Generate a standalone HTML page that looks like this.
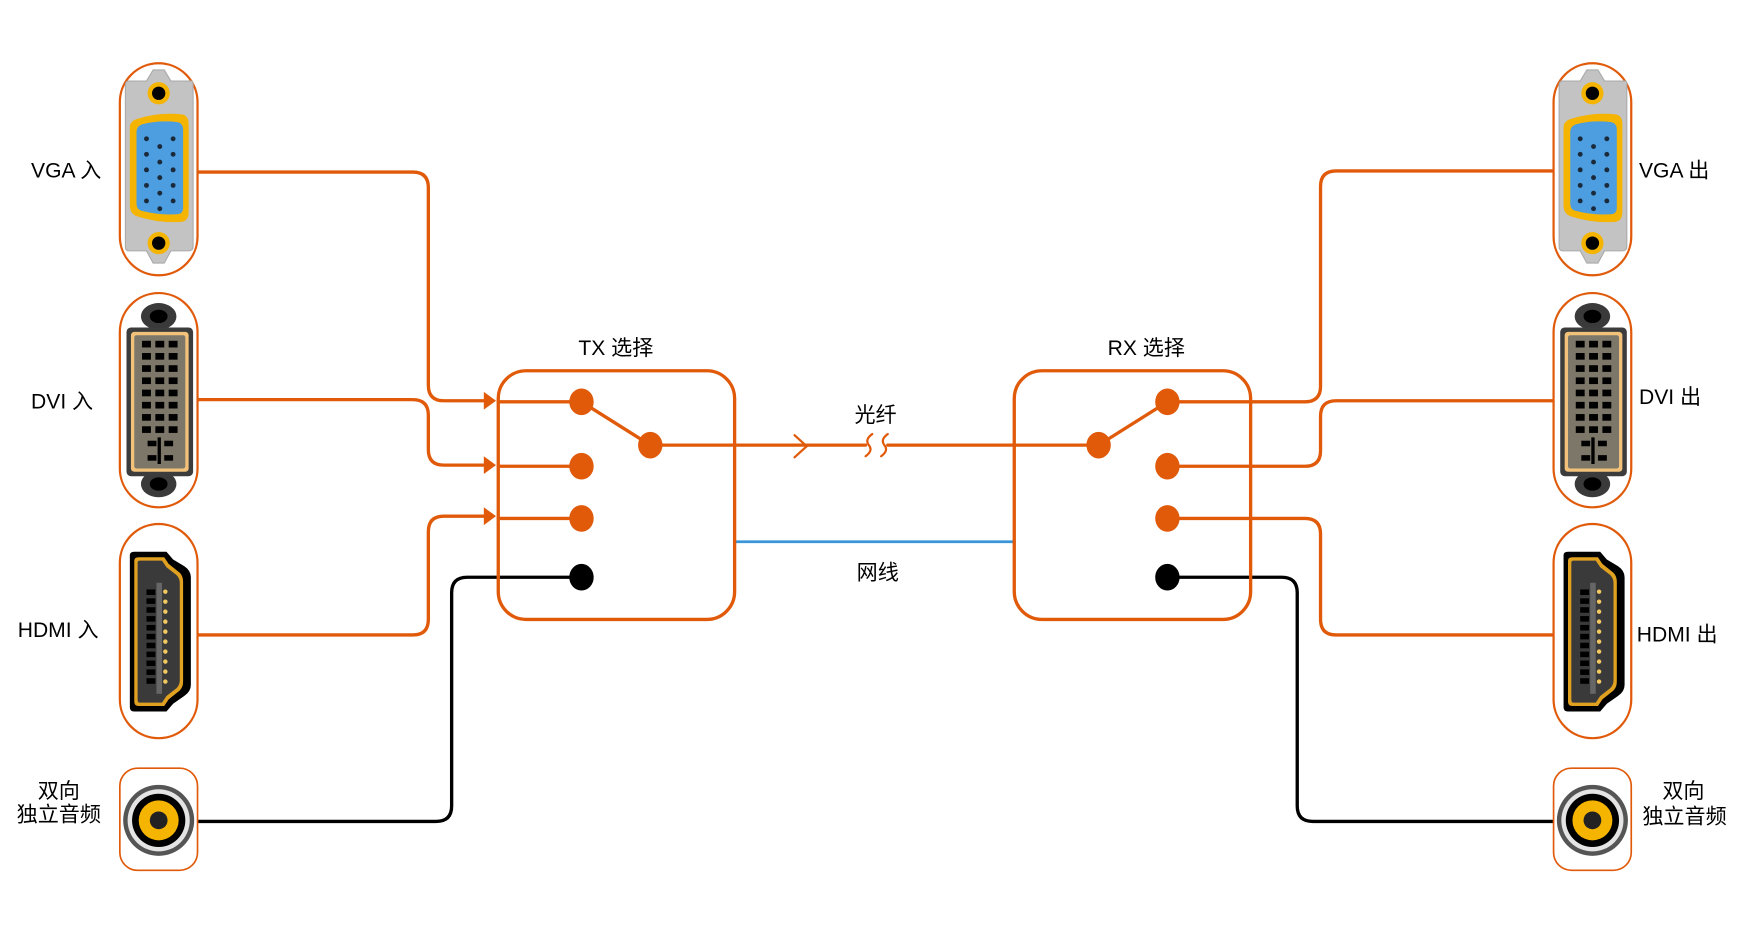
<!DOCTYPE html>
<html><head><meta charset="utf-8"><style>
html,body{margin:0;padding:0;background:#fff;}
svg{display:block}
text{font-family:"Liberation Sans Narrow","Liberation Sans","Noto Sans CJK SC",sans-serif;font-size:19px;fill:#000}
</style></head><body>
<svg width="1740" height="948" viewBox="0 0 1568 854" preserveAspectRatio="none" xmlns="http://www.w3.org/2000/svg">
<defs>
<g id="vga">
 <rect x="0" y="0" width="70" height="191" rx="35" fill="#fff" stroke="#e05a0a" stroke-width="2"/>
 <path d="M24 16 L30 6 L40 6 L46 16 L65 16 Q66 16 66 20 L66 165 Q66 169 62 169 L46 169 L40 180 L30 180 L24 169 L8 169 Q5 169 5 165 L5 20 Q5 16 8 16 Z" fill="#c3c3c3" stroke="#aaa" stroke-width="1"/>
 <circle cx="35" cy="27" r="10" fill="#f5b400"/><circle cx="35" cy="27" r="6" fill="#000"/>
 <circle cx="35" cy="162" r="10" fill="#f5b400"/><circle cx="35" cy="162" r="6" fill="#000"/>
 <path d="M16 50 Q35 44 56 46 Q62 47 62 55 L62 134 Q62 143 54 143 Q35 144 16 138 Q9 136 9 128 L9 58 Q9 52 16 50Z" fill="#f5b400"/>
 <path d="M20 55 Q35 51 52 53 Q57 54 57 60 L57 130 Q57 136 51 136 Q35 137 20 133 Q15 132 15 126 L15 62 Q15 57 20 55Z" fill="#4d9ee0"/>
 <g fill="#1a2a3a">
 <circle cx="24" cy="68" r="2.2"/><circle cx="48" cy="68" r="2.2"/><circle cx="24" cy="82" r="2.2"/><circle cx="48" cy="82" r="2.2"/><circle cx="24" cy="96" r="2.2"/><circle cx="48" cy="96" r="2.2"/><circle cx="24" cy="110" r="2.2"/><circle cx="48" cy="110" r="2.2"/><circle cx="24" cy="124" r="2.2"/><circle cx="48" cy="124" r="2.2"/>
 <circle cx="36" cy="75" r="2.2"/><circle cx="36" cy="89" r="2.2"/><circle cx="36" cy="103" r="2.2"/><circle cx="36" cy="117" r="2.2"/><circle cx="36" cy="131" r="2.2"/>
 </g>
</g>
<g id="dvi">
 <rect x="0" y="0" width="70" height="193" rx="35" fill="#fff" stroke="#e05a0a" stroke-width="2"/>
 <ellipse cx="35" cy="21" rx="16" ry="12" fill="#3a3a3a"/><ellipse cx="35" cy="21" rx="8" ry="6" fill="#000"/>
 <ellipse cx="35" cy="172" rx="16" ry="12" fill="#3a3a3a"/><ellipse cx="35" cy="172" rx="8" ry="6" fill="#000"/>
 <rect x="6" y="31" width="60" height="134" rx="4" fill="#3c3c3c"/>
 <rect x="10" y="35" width="52" height="126" rx="3" fill="#f2c27a"/>
 <rect x="13" y="38" width="46" height="120" rx="2" fill="#7d776a"/>
 <g fill="#000">
 <rect x="20" y="43" width="8" height="6"/><rect x="32" y="43" width="8" height="6"/><rect x="44" y="43" width="8" height="6"/>
 <rect x="20" y="54" width="8" height="6"/><rect x="32" y="54" width="8" height="6"/><rect x="44" y="54" width="8" height="6"/>
 <rect x="20" y="65" width="8" height="6"/><rect x="32" y="65" width="8" height="6"/><rect x="44" y="65" width="8" height="6"/>
 <rect x="20" y="76" width="8" height="6"/><rect x="32" y="76" width="8" height="6"/><rect x="44" y="76" width="8" height="6"/>
 <rect x="20" y="87" width="8" height="6"/><rect x="32" y="87" width="8" height="6"/><rect x="44" y="87" width="8" height="6"/>
 <rect x="20" y="98" width="8" height="6"/><rect x="32" y="98" width="8" height="6"/><rect x="44" y="98" width="8" height="6"/>
 <rect x="20" y="109" width="8" height="6"/><rect x="32" y="109" width="8" height="6"/><rect x="44" y="109" width="8" height="6"/>
 <rect x="20" y="120" width="8" height="6"/><rect x="32" y="120" width="8" height="6"/><rect x="44" y="120" width="8" height="6"/>
 <rect x="25" y="133" width="8" height="5"/><rect x="40" y="133" width="8" height="5"/><rect x="25" y="146" width="8" height="5"/><rect x="40" y="146" width="8" height="5"/>
 <rect x="34" y="130" width="3" height="24"/>
 </g>
</g>
<g id="hdmi">
 <rect x="0" y="0" width="70" height="193" rx="35" fill="#fff" stroke="#e05a0a" stroke-width="2"/>
 <path d="M9 28 Q9 25 13 25 L42 25 L48 32 L58 38 Q64 42 64 48 L64 145 Q64 151 58 155 L48 162 L42 169 L13 169 Q9 169 9 165 Z" fill="#000"/>
 <path d="M13 33 Q13 30 17 30 L40 30 L44 36 L54 44 Q57 47 57 52 L57 142 Q57 147 54 150 L44 158 L40 164 L17 164 Q13 164 13 160 Z" fill="#e0a020"/>
 <path d="M16 35 Q16 33 18 33 L38 33 L42 39 L51 46 Q54 49 54 53 L54 141 Q54 145 51 148 L42 155 L38 161 L18 161 Q16 161 16 158 Z" fill="#3a3a3a"/>
 <rect x="33" y="53" width="5" height="100" fill="#666"/>
 <g fill="#000"><rect x="24" y="59" width="8" height="5"/><rect x="24" y="67" width="8" height="5"/><rect x="24" y="75" width="8" height="5"/><rect x="24" y="83" width="8" height="5"/><rect x="24" y="91" width="8" height="5"/><rect x="24" y="99" width="8" height="5"/><rect x="24" y="107" width="8" height="5"/><rect x="24" y="115" width="8" height="5"/><rect x="24" y="123" width="8" height="5"/><rect x="24" y="131" width="8" height="5"/><rect x="24" y="139" width="8" height="5"/></g>
 <g fill="#f2c860"><circle cx="41" cy="61" r="2"/><circle cx="41" cy="70" r="2"/><circle cx="41" cy="79" r="2"/><circle cx="41" cy="88" r="2"/><circle cx="41" cy="97" r="2"/><circle cx="41" cy="106" r="2"/><circle cx="41" cy="115" r="2"/><circle cx="41" cy="124" r="2"/><circle cx="41" cy="133" r="2"/><circle cx="41" cy="142" r="2"/></g>
</g>
<g id="aud">
 <rect x="0" y="0" width="70" height="92" rx="16" fill="#fff" stroke="#e05a0a" stroke-width="1.5"/>
 <circle cx="35" cy="47" r="32" fill="#555"/><circle cx="35" cy="47" r="28" fill="#e4e4e4"/><circle cx="35" cy="47" r="24" fill="#000"/><circle cx="35" cy="47" r="18" fill="#f5b400"/><circle cx="35" cy="47" r="8" fill="#222"/>
</g>
</defs>

<g fill="none" stroke-width="3" stroke-linecap="round">
 <!-- left orange -->
 <path d="M178 155 H372 Q386 155 386 169 V347 Q386 361 400 361 H438" stroke="#e05a0a"/>
 <path d="M178 360 H372 Q386 360 386 374 V405 Q386 419 400 419 H438" stroke="#e05a0a"/>
 <path d="M178 572 H372 Q386 572 386 558 V479 Q386 465 400 465 H438" stroke="#e05a0a"/>
 <path d="M178 740 H393 Q407 740 407 726 V534 Q407 520 421 520 H524" stroke="#000"/>
 <path d="M449 362 H524 M449 420 H524 M449 467 H524" stroke="#e05a0a"/>
 <!-- right -->
 <path d="M1052 362 H1176 Q1190 362 1190 348 V168 Q1190 154 1204 154 H1400" stroke="#e05a0a"/>
 <path d="M1052 420 H1176 Q1190 420 1190 406 V375 Q1190 361 1204 361 H1400" stroke="#e05a0a"/>
 <path d="M1052 467 H1176 Q1190 467 1190 481 V558 Q1190 572 1204 572 H1400" stroke="#e05a0a"/>
 <path d="M1052 520 H1155 Q1169 520 1169 534 V726 Q1169 740 1183 740 H1400" stroke="#000"/>
 <!-- fiber -->
 <path d="M586 401 H780 M800 401 H990" stroke="#e05a0a"/>
 <path d="M524 362 L586 401 M990 401 L1052 362" stroke="#e05a0a"/>
 <path d="M716 392 L727 402 L716 412" stroke="#e05a0a" stroke-width="2"/>
 <path d="M786 391 Q779 396 783 401 Q787 406 780 411 M800 391 Q793 396 797 401 Q801 406 794 411" stroke="#e05a0a" stroke-width="2"/>
 <path d="M662 488 H914" stroke="#3a94d8" stroke-width="2.5"/>
</g>
<g fill="#e05a0a">
 <path d="M436 353 L447 361 L436 369Z"/><path d="M436 411 L447 419 L436 427Z"/><path d="M436 457 L447 465 L436 473Z"/>
</g>
<rect x="449" y="334" width="213" height="224" rx="25" fill="none" stroke="#e05a0a" stroke-width="3"/>
<rect x="914" y="334" width="213" height="224" rx="25" fill="none" stroke="#e05a0a" stroke-width="3"/>
<g fill="#e05a0a">
 <ellipse cx="524" cy="362" rx="11" ry="12"/><ellipse cx="524" cy="420" rx="11" ry="12"/><ellipse cx="524" cy="467" rx="11" ry="12"/><ellipse cx="586" cy="401" rx="11" ry="12"/>
 <ellipse cx="1052" cy="362" rx="11" ry="12"/><ellipse cx="1052" cy="420" rx="11" ry="12"/><ellipse cx="1052" cy="467" rx="11" ry="12"/><ellipse cx="990" cy="401" rx="11" ry="12"/>
</g>
<ellipse cx="524" cy="520" rx="11" ry="12" fill="#000"/><ellipse cx="1052" cy="520" rx="11" ry="12" fill="#000"/>

<use href="#vga" x="108" y="57"/><use href="#dvi" x="108" y="264"/><use href="#hdmi" x="108" y="472"/><use href="#aud" x="108" y="692"/>
<use href="#vga" x="1400" y="57"/><use href="#dvi" x="1400" y="264"/><use href="#hdmi" x="1400" y="472"/><use href="#aud" x="1400" y="692"/>

<text x="28" y="160">VGA 入</text>
<text x="28" y="368">DVI 入</text>
<text x="16" y="574">HDMI 入</text>
<text x="53" y="719" text-anchor="middle">双向</text>
<text x="53" y="740" text-anchor="middle">独立音频</text>
<text x="1477" y="160">VGA 出</text>
<text x="1477" y="364">DVI 出</text>
<text x="1475" y="578">HDMI 出</text>
<text x="1517" y="719" text-anchor="middle">双向</text>
<text x="1518" y="742" text-anchor="middle">独立音频</text>
<text x="555" y="320" text-anchor="middle">TX 选择</text>
<text x="1033" y="320" text-anchor="middle">RX 选择</text>
<text x="789" y="380" text-anchor="middle">光纤</text>
<text x="791" y="522" text-anchor="middle">网线</text>
</svg>
</body></html>
